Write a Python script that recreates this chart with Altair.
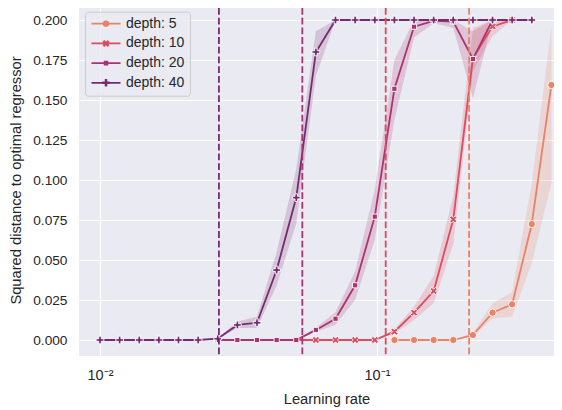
import math
import altair as alt
import pandas as pd

# ---------------- data ----------------
lr = [0.01, 0.01177, 0.01386, 0.01631, 0.0192, 0.02261, 0.02661, 0.03133,
      0.03688, 0.04342, 0.05111, 0.06017, 0.07083, 0.08338, 0.09816, 0.11556,
      0.13604, 0.16015, 0.18853, 0.22194, 0.26127, 0.30757, 0.36207, 0.42625]

labels = ["depth: 5", "depth: 10", "depth: 20", "depth: 40"]
colors = ["#e98266", "#dc4b5f", "#a9346f", "#762b70"]
thresholds = [0.215, 0.1075, 0.05375, 0.02687]

start5 = 15
mean5 = [0, 0, 0, 0, 0.0031, 0.0171, 0.0223, 0.0725, 0.1594]
lo5 = [0, 0, 0, 0, 0.0020, 0.0135, 0.0146, 0.0480, 0.0980]
hi5 = [0, 0, 0, 0, 0.0045, 0.0230, 0.0300, 0.0980, 0.1960]

start10 = 10
mean10 = [0, 0, 0, 0, 0, 0.0052, 0.0171, 0.0306, 0.0754, 0.176, 0.196, 0.2]
lo10 = [0, 0, 0, 0, 0, 0.0040, 0.0125, 0.0230, 0.0600, 0.1680, 0.1900, 0.2]
hi10 = [0, 0, 0, 0, 0, 0.0065, 0.0210, 0.0400, 0.0900, 0.1950, 0.2000, 0.2]

start20 = 6
mean20 = [0, 0, 0, 0, 0, 0.0063, 0.0133, 0.0342, 0.0771, 0.157, 0.1958,
          0.1994, 0.199, 0.1756, 0.2]
lo20 = [0, 0, 0, 0, 0, 0.0050, 0.0095, 0.0250, 0.0625, 0.1375, 0.1890,
        0.1980, 0.1950, 0.1510, 0.2]
hi20 = [0, 0, 0, 0, 0, 0.0075, 0.0175, 0.0430, 0.0940, 0.1750, 0.2000,
        0.2000, 0.2000, 0.1930, 0.2]

start40 = 0
mean40 = [0, 0, 0, 0, 0, 0, 0.0008, 0.0094, 0.0108, 0.0437, 0.089, 0.18,
          0.2, 0.2, 0.2, 0.2, 0.2, 0.2, 0.2, 0.2, 0.2, 0.2, 0.2]
lo40 = [0, 0, 0, 0, 0, 0, 0.0005, 0.0075, 0.0075, 0.034, 0.073, 0.165,
        0.2, 0.2, 0.2, 0.2, 0.2, 0.2, 0.2, 0.2, 0.2, 0.2, 0.2]
hi40 = [0, 0, 0, 0, 0, 0, 0.0012, 0.0115, 0.0145, 0.055, 0.107, 0.193,
        0.2, 0.2, 0.2, 0.2, 0.2, 0.2, 0.2, 0.2, 0.2, 0.2, 0.2]

y_ticks = [0, 0.025, 0.05, 0.075, 0.1, 0.125, 0.15, 0.175, 0.2]
x_ticks = [0.01, 0.1]

series = [(start5, mean5, lo5, hi5), (start10, mean10, lo10, hi10),
          (start20, mean20, lo20, hi20), (start40, mean40, lo40, hi40)]


def frame(start, mean, lo, hi):
    n = len(mean)
    return pd.DataFrame({"lr": lr[start:start + n], "mean": mean, "lo": lo, "hi": hi})


# ---------------- marker shapes (style only) ----------------
def fmt(pts):
    return "M" + "L".join(f"{x:.3f},{y:.3f}" for x, y in pts) + "Z"


def plus_pts(h):
    w = h / 3
    return [(-h, -w), (-w, -w), (-w, -h), (w, -h), (w, -w), (h, -w), (h, w),
            (w, w), (w, h), (-w, h), (-w, w), (-h, w)]


def rot45(pts):
    s = math.sqrt(0.5)
    return [((x - y) * s, (x + y) * s) for x, y in pts]


def circle_pts(r, n=20):
    return [(r * math.cos(2 * math.pi * k / n), r * math.sin(2 * math.pi * k / n)) for k in range(n)]


def square_pts(s):
    return [(-s, -s), (s, -s), (s, s), (-s, s)]


plot_shapes = ["circle", fmt(rot45(plus_pts(1.0))), "square", fmt(plus_pts(1.0))]
plot_sizes = [53, 60, 27, 60]

a, t = 2.42, 0.15
line_path = fmt([(-a, -t), (a, -t), (a, t), (-a, t)])
legend_shapes = [
    line_path + fmt(circle_pts(0.55)),
    line_path + fmt(rot45(plus_pts(0.62))),
    line_path + fmt(square_pts(0.38)),
    line_path + fmt(plus_pts(0.62)),
]

# ---------------- scales / axes ----------------
xscale = alt.Scale(type="log", domain=[0.008397, 0.43549], nice=False)
yscale = alt.Scale(domain=[-0.01, 0.2075], nice=False, zero=False)

xaxis = alt.Axis(values=x_ticks, labelExpr="datum.value < 0.05 ? '10⁻²' : '10⁻¹'",
                 labelFlush=False, labelPadding=12, labelFontSize=14.5,
                 title="Learning rate", titleX=247.5, titleY=47,
                 titleBaseline="alphabetic", titleAlign="center")
yaxis = alt.Axis(values=y_ticks, format=".3f", labelPadding=12,
                 title="Squared distance to optimal regressor",
                 titleX=-63, titleY=172, titleAlign="center", titleBaseline="middle")

X = alt.X("lr:Q", scale=xscale, axis=xaxis)

layers = []
for (start, mean, lo, hi), col in zip(series, colors):
    df = frame(start, mean, lo, hi)
    layers.append(alt.Chart(df).mark_area(color=col, opacity=0.2).encode(
        x=X, y=alt.Y("lo:Q", scale=yscale, axis=yaxis), y2="hi:Q"))

for (start, mean, lo, hi), col, shp, sz in zip(series, colors, plot_shapes, plot_sizes):
    df = frame(start, mean, lo, hi)
    layers.append(alt.Chart(df).mark_line(color=col, strokeWidth=1.8).encode(
        x=X, y=alt.Y("mean:Q", scale=yscale, axis=yaxis)))
    layers.append(alt.Chart(df).mark_point(filled=True, fill=col, stroke="white",
                                           strokeWidth=0.9, opacity=1, shape=shp, size=sz).encode(
        x=X, y=alt.Y("mean:Q", scale=yscale, axis=yaxis)))

rules_df = pd.DataFrame({"thr": thresholds, "label": labels})
for thr, col in zip(thresholds, colors):
    layers.append(alt.Chart(pd.DataFrame({"thr": [thr]})).mark_rule(
        color=col, strokeWidth=1.8, strokeDash=[6.8, 2.9]).encode(
        x=alt.X("thr:Q", scale=xscale, axis=xaxis)))

leg = alt.Legend(title=None, orient="none", legendX=6, legendY=3.7, padding=5,
                 symbolSize=144, symbolStrokeWidth=0, symbolOffset=9, symbolOpacity=1,
                 labelOffset=13, rowPadding=5.7, labelFont="Liberation Sans",
                 labelFontSize=14, labelColor="#262626",
                 fillColor="rgba(234,234,242,0.8)", strokeColor="#cccccc",
                 cornerRadius=3)

legend_layer = alt.Chart(rules_df).mark_point(filled=True, opacity=0).encode(
    color=alt.Color("label:N", scale=alt.Scale(domain=labels, range=colors), legend=leg),
    shape=alt.Shape("label:N", scale=alt.Scale(domain=labels, range=legend_shapes), legend=leg),
)
layers.append(legend_layer)

chart = alt.layer(*layers).properties(
    width=475, height=348,
    autosize=alt.AutoSizeParams(type="none"),
    padding={"left": 71, "top": 0, "right": 0, "bottom": 54},
    view=alt.ViewBackground(fill="#eaeaf2", strokeWidth=0),
).configure_view(fill="#eaeaf2", strokeWidth=0).configure_axis(
    grid=True, gridColor="white", gridWidth=1.2, domain=False, ticks=False,
    labelColor="#262626", titleColor="#262626", labelFont="Liberation Sans",
    titleFont="Liberation Sans", labelFontSize=13.7, titleFontSize=14.7,
    titleFontWeight="normal",
)

chart.save("out.html", embed_options={"renderer": "svg", "actions": False})
